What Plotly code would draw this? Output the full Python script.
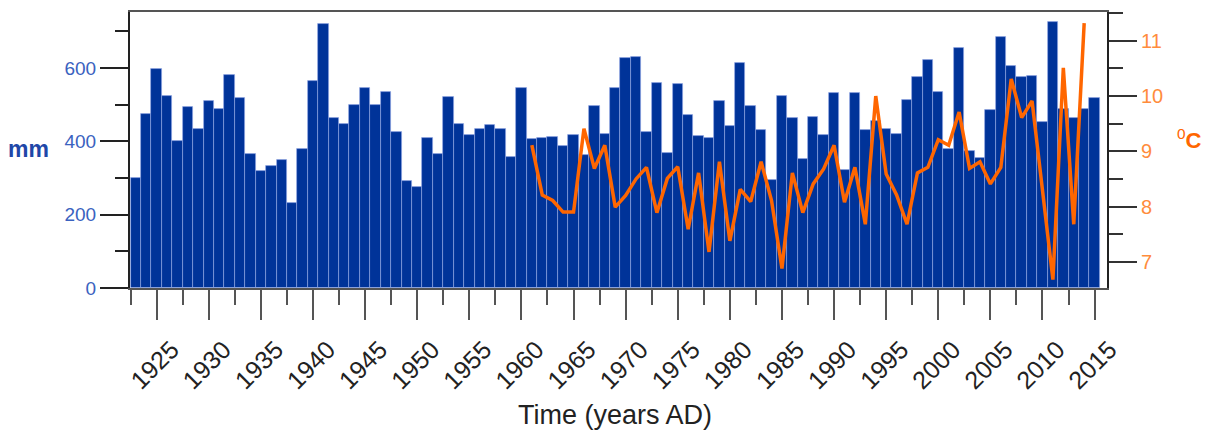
import plotly.graph_objects as go

# Annual precipitation (mm), 1923-2015
years = list(range(1923, 2016))
precip_mm = [
    300, 475, 598, 523, 401, 494, 435, 511, 488, 580,   # 1923-1932
    518, 366, 320, 333, 349, 232, 378, 565, 719, 463,   # 1933-1942
    448, 498, 547, 500, 536, 425, 291, 275, 409, 366,   # 1943-1952
    522, 448, 417, 433, 445, 433, 357, 545, 407, 408,   # 1953-1962
    413, 387, 418, 363, 497, 419, 547, 627, 630, 425,   # 1963-1972
    560, 368, 556, 472, 416, 409, 511, 441, 615, 497,   # 1973-1982
    430, 294, 523, 465, 352, 467, 417, 531, 322, 533,   # 1983-1992
    431, 456, 435, 420, 513, 576, 622, 536, 379, 654,   # 1993-2002
    375, 354, 486, 685, 607, 576, 579, 453, 725, 489,   # 2003-2012
    464, 489, 518,                                      # 2013-2015
]

# Mean annual temperature (deg C), 1961-2014
temp_years = list(range(1961, 2015))
temp_c = [
    9.11, 8.21, 8.11, 7.90, 7.90, 9.41, 8.69, 9.11, 7.99, 8.20,   # 1961-1970
    8.50, 8.71, 7.89, 8.51, 8.72, 7.59, 8.61, 7.18, 8.81, 7.38,   # 1971-1980
    8.31, 8.09, 8.81, 8.11, 6.88, 8.61, 7.89, 8.41, 8.68, 9.11,   # 1981-1990
    8.08, 8.71, 7.68, 10.00, 8.59, 8.21, 7.68, 8.61, 8.71, 9.21,  # 1991-2000
    9.11, 9.71, 8.69, 8.81, 8.41, 8.71, 10.31, 9.61, 9.91, 8.30,  # 2001-2010
    6.68, 10.51, 7.68, 11.32,                                     # 2011-2014
]

year_ticks = list(range(1925, 2016, 5))
mm_ticks = [0, 200, 400, 600]
temp_ticks = [7, 8, 9, 10, 11]

BLUE = "#003399"
ORANGE = "#ff6600"
FONT = "Liberation Sans"

fig = go.Figure()

fig.add_trace(go.Bar(
    x=years, y=precip_mm, width=1.0,
    marker=dict(color=BLUE, line=dict(color="rgba(150,170,230,0.75)", width=0.8)),
    showlegend=False,
))

fig.add_trace(go.Scatter(
    x=temp_years, y=temp_c, yaxis="y2", mode="lines",
    line=dict(color=ORANGE, width=3.5),
    showlegend=False,
))

fig.update_layout(
    width=1210, height=436,
    margin=dict(l=130, r=103, t=10, b=148),
    paper_bgcolor="white", plot_bgcolor="white",
    bargap=0,
    font=dict(family=FONT),
    xaxis=dict(
        range=[1922.44, 2016.19],
        tickmode="array", tickvals=year_ticks, ticktext=[str(y) for y in year_ticks],
        ticks="outside", ticklen=30, tickwidth=1.5, tickcolor="#555",
        minor=dict(tickmode="linear", tick0=1922.5, dtick=2.5, ticks="outside",
                   ticklen=15, tickwidth=1.5, tickcolor="#555"),
        tickangle=-45, ticklabelshift=15, ticklabelstandoff=5,
        tickfont=dict(size=25, color="#222", family=FONT),
        showline=True, linecolor="#555", linewidth=2, mirror=True,
        showgrid=False, zeroline=False,
    ),
    yaxis=dict(
        range=[0, 753],
        tickmode="array", tickvals=mm_ticks,
        ticks="outside", ticklen=28, tickwidth=1.5, tickcolor="#222",
        minor=dict(tickmode="linear", tick0=0, dtick=100, ticks="outside",
                   ticklen=13, tickwidth=1.5, tickcolor="#222"),
        tickfont=dict(size=19, color="#3a62c0", family=FONT),
        showline=True, linecolor="#222", linewidth=2,
        showgrid=False, zeroline=False,
    ),
    yaxis2=dict(
        range=[6.527, 11.52], overlaying="y", side="right",
        tickmode="array", tickvals=temp_ticks,
        ticks="outside", ticklen=28, tickwidth=2, tickcolor="#333",
        minor=dict(tickmode="linear", tick0=7, dtick=0.5, ticks="outside",
                   ticklen=14, tickwidth=2, tickcolor="#333"),
        tickfont=dict(size=20, color="#ff8c3c", family=FONT),
        showline=True, linecolor="#222", linewidth=2,
        showgrid=False, zeroline=False,
    ),
    annotations=[
        dict(text="Time (years AD)", x=0.496, y=-0.46, xref="paper", yref="paper",
             xanchor="center", yanchor="middle", showarrow=False,
             font=dict(size=27, color="#222", family=FONT)),
        dict(text="<b>mm</b>", x=-0.1034, y=0.5036, xref="paper", yref="paper",
             xanchor="center", yanchor="middle", showarrow=False,
             font=dict(size=23, color="#1f47a8", family=FONT)),
        dict(text="<sup>0</sup><b>C</b>", x=1.0843, y=0.54, xref="paper", yref="paper",
             xanchor="center", yanchor="middle", showarrow=False,
             font=dict(size=22, color=ORANGE, family=FONT)),
    ],
)

fig.write_html("out.html")
